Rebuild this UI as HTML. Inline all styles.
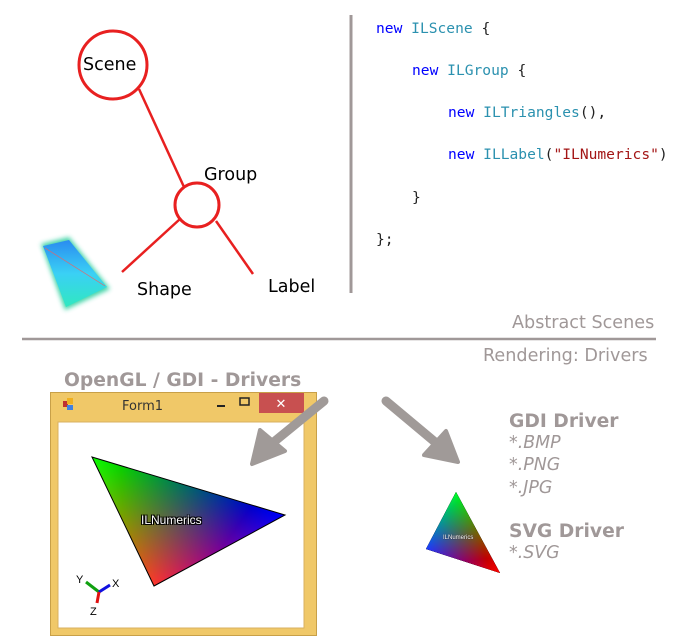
<!DOCTYPE html>
<html><head><style>
body{margin:0;width:687px;height:640px;background:#fff;overflow:hidden;font-family:"DejaVu Sans","Liberation Sans",sans-serif;}
.t{position:absolute;white-space:nowrap}
.code{font-family:"DejaVu Sans Mono","Liberation Mono",monospace;font-size:14.6px;color:#222}
.k{color:#0000ff}.ty{color:#2b91af}.s{color:#a31515}
.g{color:#a09898;font-weight:bold;font-size:18.7px}
.gi{color:#a09898;font-style:italic;font-size:17.4px}
.n{font-size:17.5px}
</style></head><body>
<svg width="687" height="640" style="position:absolute;left:0;top:0">
<defs>
<linearGradient id="cyan" x1="0" y1="0" x2="0" y2="1"><stop offset="0" stop-color="#2a8cf0"/><stop offset="0.5" stop-color="#3ad0f5"/><stop offset="1" stop-color="#30e8c0"/></linearGradient>
<filter id="bl"><feGaussianBlur stdDeviation="2.5"/></filter>
<linearGradient id="gG" gradientUnits="userSpaceOnUse" x1="92" y1="457" x2="220" y2="550"><stop offset="0" stop-color="#00ff00"/><stop offset="1" stop-color="#000"/></linearGradient>
<linearGradient id="gB" gradientUnits="userSpaceOnUse" x1="285" y1="515" x2="123" y2="521"><stop offset="0" stop-color="#0000ff"/><stop offset="1" stop-color="#000"/></linearGradient>
<linearGradient id="gR" gradientUnits="userSpaceOnUse" x1="154" y1="586" x2="188" y2="486"><stop offset="0" stop-color="#ff0000"/><stop offset="1" stop-color="#000"/></linearGradient>
<linearGradient id="sG" gradientUnits="userSpaceOnUse" x1="456" y1="492" x2="463" y2="561"><stop offset="0" stop-color="#00ff00"/><stop offset="1" stop-color="#000"/></linearGradient>
<linearGradient id="sB" gradientUnits="userSpaceOnUse" x1="426" y1="549" x2="478" y2="532"><stop offset="0" stop-color="#0000ff"/><stop offset="1" stop-color="#000"/></linearGradient>
<linearGradient id="sR" gradientUnits="userSpaceOnUse" x1="500" y1="573" x2="441" y2="520"><stop offset="0" stop-color="#ff0000"/><stop offset="1" stop-color="#000"/></linearGradient>
</defs>
<circle cx="113" cy="65" r="34" fill="#fff" stroke="#e82020" stroke-width="3"/>
<circle cx="197" cy="205" r="22" fill="#fff" stroke="#e82020" stroke-width="3"/>
<g stroke="#e82020" stroke-width="2.5">
<line x1="139" y1="89" x2="184" y2="187"/>
<line x1="180" y1="219" x2="122" y2="272"/>
<line x1="216" y1="221" x2="253" y2="274"/>
</g>
<polygon points="41,244 69,237 110,289 65,310" fill="#30d0a0" filter="url(#bl)" opacity="0.9"/>
<polygon points="43,246 69,240 107,287 66,307" fill="url(#cyan)"/>
<line x1="45" y1="248" x2="105" y2="286" stroke="#f06060" stroke-width="0.6"/>
<line x1="351" y1="15" x2="351" y2="293" stroke="#a09898" stroke-width="3"/>
<line x1="22" y1="339" x2="656" y2="339" stroke="#a09898" stroke-width="2.5"/>
<rect x="50.5" y="392.5" width="266" height="243" fill="#f0c868" stroke="#c8a048"/>
<rect x="58" y="422" width="246" height="206" fill="#fff" stroke="#d8b060"/>
<rect x="259" y="393" width="45" height="20" fill="#c85050"/>
<text x="281" y="408" font-size="13" fill="#fff" text-anchor="middle" font-family="Liberation Sans">✕</text>
<rect x="217" y="405" width="8" height="2" fill="#222"/>
<rect x="240" y="398" width="9" height="7" fill="none" stroke="#222" stroke-width="1.5"/>
<rect x="63" y="401" width="5" height="6" fill="#c03030"/><rect x="67" y="398" width="6" height="6" fill="#f0b020"/><rect x="67" y="405" width="6" height="5" fill="#4080e0"/>
<g style="isolation:isolate">
<polygon points="92,457 285,515 154,586" fill="#000"/>
<polygon points="92,457 285,515 154,586" fill="url(#gG)" style="mix-blend-mode:screen"/>
<polygon points="92,457 285,515 154,586" fill="url(#gB)" style="mix-blend-mode:screen"/>
<polygon points="92,457 285,515 154,586" fill="url(#gR)" style="mix-blend-mode:screen"/>
</g>
<polygon points="92,457 285,515 154,586" fill="none" stroke="#000" stroke-width="1"/>
<g style="isolation:isolate">
<polygon points="456,492 426,549 500,573" fill="#000"/>
<polygon points="456,492 426,549 500,573" fill="url(#sG)" style="mix-blend-mode:screen"/>
<polygon points="456,492 426,549 500,573" fill="url(#sB)" style="mix-blend-mode:screen"/>
<polygon points="456,492 426,549 500,573" fill="url(#sR)" style="mix-blend-mode:screen"/>
</g>
<line x1="99" y1="592" x2="86" y2="582" stroke="#10a010" stroke-width="3"/>
<line x1="99" y1="592" x2="110" y2="585" stroke="#1010e0" stroke-width="3"/>
<line x1="99" y1="592" x2="97" y2="603" stroke="#e01010" stroke-width="3"/>
<text x="76" y="583" font-size="11" font-family="Liberation Sans">Y</text>
<text x="112" y="587" font-size="11" font-family="Liberation Sans">X</text>
<text x="90" y="615" font-size="11" font-family="Liberation Sans">Z</text>
<g stroke="#a09a98" stroke-width="9" stroke-linecap="round" fill="#a09a98">
<line x1="324" y1="401" x2="275" y2="441"/>
<line x1="386" y1="401" x2="435" y2="442"/>
</g>
<polygon points="252,464 260,430 285,451" fill="#a09a98" stroke="#a09a98" stroke-width="4" stroke-linejoin="round"/>
<polygon points="458,462 424,455 446,431" fill="#a09a98" stroke="#a09a98" stroke-width="4" stroke-linejoin="round"/>
</svg>
<div class="t n" style="left:83px;top:55px">Scene</div>
<div class="t n" style="left:204px;top:165px">Group</div>
<div class="t n" style="left:137px;top:280px">Shape</div>
<div class="t n" style="left:268px;top:277px">Label</div>
<div class="t code" style="left:376px;top:20px"><span class="k">new</span> <span class="ty">ILScene</span> {</div>
<div class="t code" style="left:412px;top:62px"><span class="k">new</span> <span class="ty">ILGroup</span> {</div>
<div class="t code" style="left:448px;top:104px"><span class="k">new</span> <span class="ty">ILTriangles</span>(),</div>
<div class="t code" style="left:448px;top:146px"><span class="k">new</span> <span class="ty">ILLabel</span>(<span class="s">"ILNumerics"</span>)</div>
<div class="t code" style="left:412px;top:189px">}</div>
<div class="t code" style="left:376px;top:231px">};</div>
<div class="t" style="left:512px;top:313px;font-size:17.6px;color:#a09898">Abstract Scenes</div>
<div class="t" style="left:483px;top:346px;font-size:17.6px;color:#a09898">Rendering: Drivers</div>
<div class="t g" style="left:64px;top:370px">OpenGL / GDI - Drivers</div>
<div class="t" style="left:122px;top:399px;font-size:13px;color:#333">Form1</div>
<div class="t" style="left:141px;top:513px;font-size:12px;font-family:'Liberation Sans';color:#fff;text-shadow:0 0 1px #000,1px 1px 0 #000,-1px -1px 0 #000,1px -1px 0 #000,-1px 1px 0 #000">ILNumerics</div>
<div class="t" style="left:443px;top:535px;font-size:6px;font-family:'Liberation Sans';color:#fff;text-shadow:0 0 1px #000">ILNumerics</div>
<div class="t g" style="left:509px;top:411px">GDI Driver</div>
<div class="t gi" style="left:509px;top:433px">*.BMP</div>
<div class="t gi" style="left:509px;top:455px">*.PNG</div>
<div class="t gi" style="left:509px;top:478px">*.JPG</div>
<div class="t g" style="left:509px;top:521px">SVG Driver</div>
<div class="t gi" style="left:509px;top:543px">*.SVG</div>
</body></html>
